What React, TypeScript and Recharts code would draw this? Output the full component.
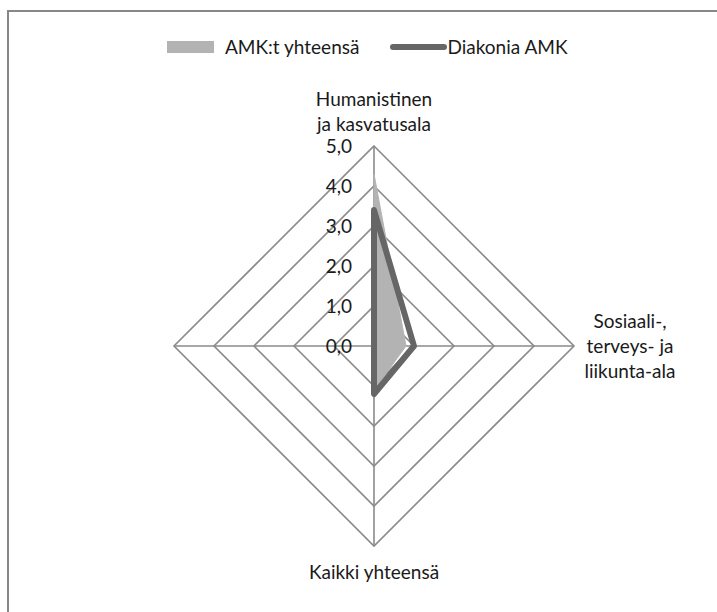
import React from 'react';
import { RadarChart, Radar, PolarGrid, PolarAngleAxis, PolarRadiusAxis } from 'recharts';

const categories = ['Humanistinen\nja kasvatusala', 'Sosiaali-,\nterveys- ja\nliikunta-ala', 'Kaikki yhteensä', ''];
const amkValues = [4.3, 0.8, 1.1, 0];
const diakoniaValues = [3.4, 1.0, 1.2, 0];
const radiusTicks = [0, 1, 2, 3, 4, 5];
const seriesNames = ['AMK:t yhteensä', 'Diakonia AMK'];

const CX = 374;
const CY = 346;
const R = 200;
const FONT = 'Lato, "Open Sans", sans-serif';
const LINE_H = 25;
const FS = 19;

const data = categories.map((cat, i) => ({
  cat,
  amk: amkValues[i],
  diak: diakoniaValues[i],
}));

const AngleTick = (props: any) => {
  const { payload } = props;
  const value = String(payload.value);
  if (!value) return <g />;
  const lines = value.split('\n');
  const idx = categories.indexOf(value);
  let x = CX;
  let y0 = CY;
  if (idx === 0) {
    y0 = CY - R - 22 - (lines.length - 1) * LINE_H;
  } else if (idx === 1) {
    x = CX + R + 56;
    y0 = CY - ((lines.length - 1) * LINE_H) / 2;
  } else if (idx === 2) {
    y0 = CY + R + 26;
  }
  return (
    <text x={x} y={y0} textAnchor="middle" fill="#1a1a1a" fontSize={FS} fontFamily={FONT}>
      {lines.map((l, i) => (
        <tspan key={i} x={x} y={y0 + i * LINE_H} dy="0.35em">
          {l}
        </tspan>
      ))}
    </text>
  );
};

const RadiusTick = (props: any) => {
  const { x, y, payload } = props;
  return (
    <text x={x - 22} y={y} dy="0.35em" textAnchor="end" fill="#1a1a1a" fontSize={FS} fontFamily={FONT}>
      {Number(payload.value).toFixed(1).replace('.', ',')}
    </text>
  );
};

const App: React.FC = () => {
  return (
    <div
      style={{
        position: 'fixed',
        left: 0,
        top: 0,
        width: 717,
        height: 612,
        overflow: 'hidden',
        background: '#fff',
        fontFamily: FONT,
      }}
    >
      <div
        style={{
          position: 'absolute',
          left: 7,
          top: 10,
          width: 760,
          height: 700,
          border: '2px solid #878787',
        }}
      />
      <div
        style={{
          position: 'absolute',
          left: 167,
          top: 36,
          display: 'flex',
          alignItems: 'center',
          fontSize: FS,
          color: '#1a1a1a',
          lineHeight: '22px',
          whiteSpace: 'nowrap',
        }}
      >
        <span style={{ display: 'inline-block', width: 47, height: 12, background: '#b3b3b3', marginRight: 11 }} />
        <span>{seriesNames[0]}</span>
        <span
          style={{
            display: 'inline-block',
            width: 57,
            height: 6,
            borderRadius: 3,
            background: '#666666',
            marginLeft: 31,
          }}
        />
        <span>{seriesNames[1]}</span>
      </div>
      <div style={{ position: 'absolute', left: 0, top: 0 }}>
        <RadarChart
          width={717}
          height={612}
          data={data}
          cx={CX}
          cy={CY}
          outerRadius={R}
          margin={{ top: 0, right: 0, bottom: 0, left: 0 }}
        >
          <PolarGrid gridType="polygon" stroke="#8a8a8a" strokeWidth={1.6} />
          <PolarAngleAxis dataKey="cat" tick={AngleTick} tickLine={false} axisLine={false} />
          <PolarRadiusAxis
            angle={90}
            type="number"
            domain={[0, 5]}
            ticks={radiusTicks as any}
            tickCount={6}
            axisLine={false}
            tickLine={false}
            tick={RadiusTick}
          />
          <Radar
            name={seriesNames[0]}
            dataKey="amk"
            fill="#b3b3b3"
            fillOpacity={1}
            stroke="#b3b3b3"
            strokeWidth={1}
            isAnimationActive={false}
          />
          <Radar
            name={seriesNames[1]}
            dataKey="diak"
            fill="none"
            fillOpacity={0}
            stroke="#666666"
            strokeWidth={6}
            strokeLinejoin="round"
            isAnimationActive={false}
          />
        </RadarChart>
      </div>
    </div>
  );
};

export default App;
